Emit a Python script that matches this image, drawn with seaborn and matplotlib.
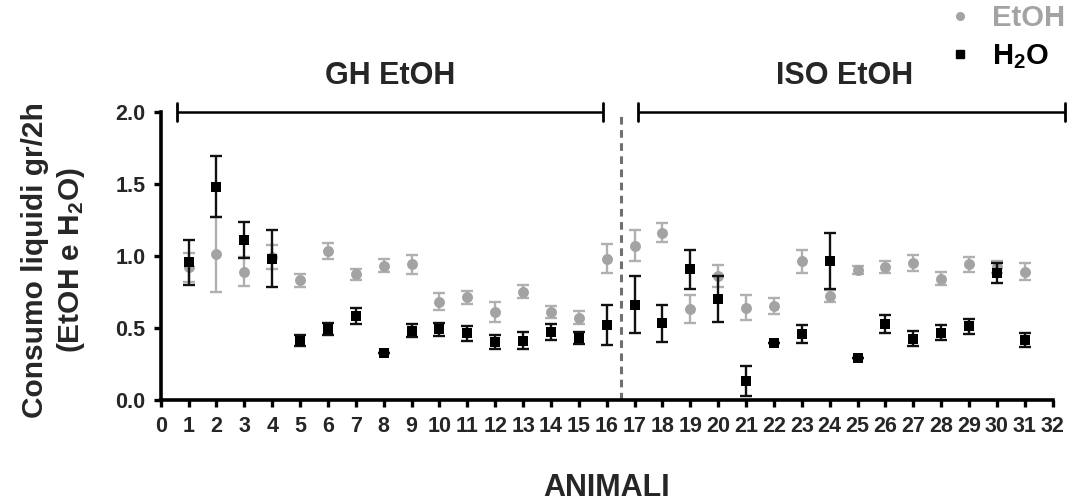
import matplotlib
matplotlib.use("Agg")
import matplotlib.pyplot as plt
from matplotlib.lines import Line2D
import seaborn as sns
import pandas as pd

# ---- data ----
animals = list(range(1, 32))
etoh_mean = [0.92, 1.01, 0.89, 0.99, 0.83, 1.03, 0.87, 0.93, 0.94, 0.68,
             0.71, 0.61, 0.75, 0.61, 0.57, 0.98, 1.07, 1.16, 0.63, 0.86,
             0.64, 0.65, 0.96, 0.72, 0.90, 0.92, 0.95, 0.84, 0.94, 0.92, 0.89]
etoh_sem = [0.10, 0.26, 0.10, 0.085, 0.045, 0.055, 0.04, 0.045, 0.065, 0.058,
            0.042, 0.067, 0.044, 0.041, 0.046, 0.10, 0.11, 0.065, 0.097, 0.075,
            0.088, 0.057, 0.083, 0.04, 0.03, 0.042, 0.056, 0.046, 0.051, 0.04, 0.06]
h2o_mean = [0.955, 1.48, 1.11, 0.98, 0.41, 0.49, 0.58, 0.325, 0.48, 0.49,
            0.46, 0.40, 0.41, 0.47, 0.43, 0.52, 0.66, 0.53, 0.905, 0.70,
            0.13, 0.395, 0.455, 0.965, 0.29, 0.525, 0.425, 0.465, 0.51, 0.88, 0.415]
h2o_sem = [0.155, 0.21, 0.125, 0.20, 0.04, 0.04, 0.055, 0.0, 0.045, 0.045,
           0.053, 0.05, 0.057, 0.058, 0.04, 0.139, 0.197, 0.127, 0.138, 0.16,
           0.107, 0.0, 0.063, 0.196, 0.0, 0.06, 0.05, 0.053, 0.051, 0.07, 0.049]
x_ticks = list(range(0, 33))
y_ticks = [0.0, 0.5, 1.0, 1.5, 2.0]
groups = ["GH EtOH", "ISO EtOH"]
legend_labels = ["EtOH", "H$_2$O"]

GREY = "#a3a3a3"
GREY_ERR = "#b0b0b0"
BLACK = "#000000"

sns.set_style("white")
plt.rcParams["font.family"] = ["Liberation Sans", "DejaVu Sans"]
plt.rcParams["font.weight"] = "bold"
plt.rcParams["mathtext.fontset"] = "custom"
plt.rcParams["mathtext.rm"] = "Liberation Sans:bold"
plt.rcParams["mathtext.bf"] = "Liberation Sans:bold"
plt.rcParams["mathtext.it"] = "Liberation Sans:bold"
plt.rcParams["mathtext.default"] = "bf"

df_e = pd.DataFrame({"animal": animals, "value": etoh_mean, "sem": etoh_sem})
df_h = pd.DataFrame({"animal": animals, "value": h2o_mean, "sem": h2o_sem})

fig = plt.figure(figsize=(10.8, 5.01), dpi=100)
ax = fig.add_axes([160.7 / 1080, 1 - 399.7 / 501, (1052.7 - 160.7) / 1080, (399.7 - 111.7) / 501])

# EtOH
ax.errorbar(df_e["animal"], df_e["value"], yerr=df_e["sem"], fmt="none",
            ecolor=GREY_ERR, elinewidth=1.7, capsize=4, capthick=1.7, zorder=1)
sns.scatterplot(data=df_e, x="animal", y="value", marker="o", s=62,
                color=GREY, linewidth=0, ax=ax, zorder=2, legend=False)
# H2O
ax.errorbar(df_h["animal"], df_h["value"], yerr=df_h["sem"], fmt="none",
            ecolor="#111111", elinewidth=1.7, capsize=4, capthick=1.7, zorder=3)
sns.scatterplot(data=df_h, x="animal", y="value", marker="s", s=56,
                color=BLACK, linewidth=0, ax=ax, zorder=4, legend=False)

ax.set_xlim(0, 32)
ax.set_ylim(0, 2.0)
ax.set_xticks(x_ticks)
ax.set_xticklabels([str(t) for t in x_ticks])
ax.set_yticks(y_ticks)
ax.set_yticklabels([f"{t:.1f}" for t in y_ticks])
for s in ["top", "right"]:
    ax.spines[s].set_visible(False)
for s in ["left", "bottom"]:
    ax.spines[s].set_linewidth(2.6)
    ax.spines[s].set_color("black")
ax.tick_params(axis="both", which="major", direction="out", length=5, width=2.4,
               color="black", labelsize=15.5, left=True, bottom=True)
ax.tick_params(axis="x", pad=7)
ax.tick_params(axis="y", pad=6)
for lab in ax.get_xticklabels() + ax.get_yticklabels():
    lab.set_fontweight("bold")

ax.set_xlabel("ANIMALI", fontsize=22, fontweight="bold")
ax.xaxis.set_label_coords(0.5, -0.255)
ax.xaxis.label.set_va("top")
ax.set_ylabel("Consumo liquidi gr/2h\n(EtOH e H$_2$O)", fontsize=21.5,
              fontweight="bold", linespacing=1.25)
ax.yaxis.set_label_coords(-0.083, 0.485)

# dashed separator
ax.plot([16.5, 16.5], [0, 1.97], color="#707070", lw=2.2,
        linestyle=(0, (2.5, 1.8)), zorder=0, clip_on=False)

# group brackets
cap = 0.0625
brackets = [(0.58, 15.88), (17.13, 32.44)]
for (x0, x1) in brackets:
    ax.plot([x0, x1], [2.0, 2.0], color="black", lw=1.8, clip_on=False, solid_capstyle="butt")
    for xx in (x0, x1):
        ax.plot([xx, xx], [2.0 - cap, 2.0 + cap], color="black", lw=2.0, clip_on=False)
ax.text(8.23, 2.25, groups[0], ha="center", va="center", fontsize=22, fontweight="bold")
ax.text(24.55, 2.25, groups[1], ha="center", va="center", fontsize=22, fontweight="bold")

# legend
handles = [Line2D([], [], marker="o", color=GREY, linestyle="none", markersize=5.5),
           Line2D([], [], marker="s", color=BLACK, linestyle="none", markersize=5.5)]
leg = fig.legend(handles, legend_labels, loc="upper left",
                 bbox_to_anchor=(945 / 1080, 1 - 4 / 501), frameon=False,
                 fontsize=21, handlelength=1.0, handletextpad=0.6,
                 labelspacing=0.35, borderpad=0, borderaxespad=0, numpoints=1)
for t, c in zip(leg.get_texts(), [GREY, BLACK]):
    t.set_color(c)
    t.set_fontweight("bold")

fig.savefig("out.png", dpi=100)
